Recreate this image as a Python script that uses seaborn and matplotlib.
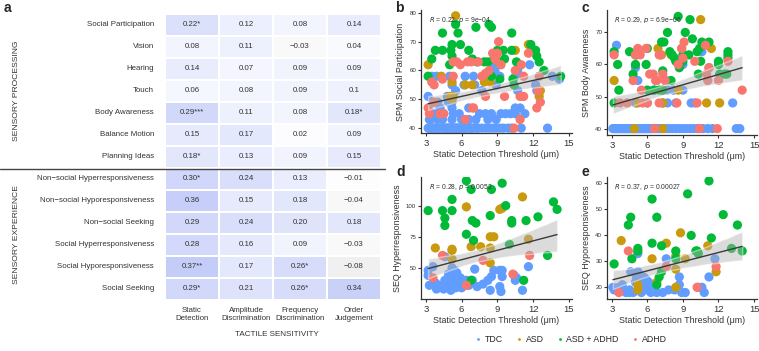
import pandas as pd
import matplotlib
matplotlib.use('Agg')
import matplotlib.pyplot as plt
import seaborn as sns
from matplotlib.colors import LinearSegmentedColormap
from matplotlib.lines import Line2D

sns.set_style('white')
plt.rcParams['font.family'] = ['Liberation Sans', 'DejaVu Sans']

# ---- painel a: tabela de correlacoes ----
linhas = ['Social Participation', 'Vision', 'Hearing', 'Touch', 'Body Awareness',
          'Balance Motion', 'Planning Ideas', 'Non\u2212social Hyperresponsiveness',
          'Non\u2212social Hyporesponsiveness', 'Non\u2212social Seeking',
          'Social Hyperresponsiveness', 'Social Hyporesponsiveness', 'Social Seeking']
colunas = ['Static\nDetection', 'Amplitude\nDiscrimination', 'Frequency\nDiscrimination', 'Order\nJudgement']
valores = [
    [0.22, 0.12, 0.08, 0.14],
    [0.08, 0.11, -0.03, 0.04],
    [0.14, 0.07, 0.09, 0.09],
    [0.06, 0.08, 0.09, 0.10],
    [0.29, 0.11, 0.08, 0.18],
    [0.15, 0.17, 0.02, 0.09],
    [0.18, 0.13, 0.09, 0.15],
    [0.30, 0.24, 0.13, -0.01],
    [0.36, 0.15, 0.18, -0.04],
    [0.29, 0.24, 0.20, 0.18],
    [0.28, 0.16, 0.09, -0.03],
    [0.37, 0.17, 0.26, -0.08],
    [0.29, 0.21, 0.26, 0.34],
]
rotulos = [
    ['0.22*', '0.12', '0.08', '0.14'],
    ['0.08', '0.11', '\u22120.03', '0.04'],
    ['0.14', '0.07', '0.09', '0.09'],
    ['0.06', '0.08', '0.09', '0.1'],
    ['0.29***', '0.11', '0.08', '0.18*'],
    ['0.15', '0.17', '0.02', '0.09'],
    ['0.18*', '0.13', '0.09', '0.15'],
    ['0.30*', '0.24', '0.13', '\u22120.01'],
    ['0.36', '0.15', '0.18', '\u22120.04'],
    ['0.29', '0.24', '0.20', '0.18'],
    ['0.28', '0.16', '0.09', '\u22120.03'],
    ['0.37**', '0.17', '0.26*', '\u22120.08'],
    ['0.29*', '0.21', '0.26*', '0.34'],
]

# ---- paineis b-e: pontos (limiar de deteccao estatica, escore) ----
grupos = ['TDC', 'ASD', 'ASD + ADHD', 'ADHD']
cores = {'TDC': '#619CFF', 'ASD': '#C99A0E', 'ASD + ADHD': '#00BA38', 'ADHD': '#F8766D'}

# muitos TDC ficam no piso (40) e se sobrepoem
b_tdc = [(x, 40) for x in [3.2, 3.3, 3.4, 3.5, 3.6, 3.7, 3.8, 3.9, 4.0, 4.1, 4.3, 4.4, 4.5, 4.6,
                           4.7, 4.8, 4.9, 5.0, 5.1, 5.2, 5.3, 5.4, 5.5, 5.6, 5.7, 5.8, 5.9,
                           6.0, 6.1, 6.2, 6.3, 6.4, 6.5, 6.7, 6.8, 6.9, 7.1, 7.3, 7.4,
                           7.7, 8.0, 8.3, 8.6, 8.9, 9.2, 9.5, 9.9, 10.2, 11.0, 13.2]] + \
        [(3.3, 43), (3.4, 43), (4.0, 43), (4.4, 43), (5.2, 43), (6.0, 43), (6.6, 43), (7.2, 43),
         (8.2, 43), (8.9, 43), (3.6, 45), (3.9, 45), (4.5, 45), (5.3, 45), (5.8, 45), (7.5, 45),
         (8.0, 45), (8.5, 45), (9.3, 45), (9.7, 45), (10.1, 45), (10.5, 45), (11.3, 45), (4.2, 47),
         (5.2, 47), (6.6, 47), (10.5, 47), (10.9, 47), (3.6, 49), (4.0, 49), (4.9, 49), (5.2, 49),
         (3.2, 51), (4.8, 51), (5.5, 53), (7.7, 53), (10.7, 53), (12.3, 53), (5.2, 55), (6.2, 55),
         (7.1, 55), (8.9, 55), (12.2, 55), (3.5, 58), (3.9, 58), (5.0, 58), (6.3, 58), (7.0, 58),
         (9.2, 58), (10.5, 58), (13.6, 58), (8.8, 60), (10.7, 60), (8.7, 62), (11.7, 62), (14.2, 57)]
b_asd = [(5.5, 79), (3.2, 62), (4.3, 58), (5.2, 56), (5.0, 51), (5.3, 51), (5.2, 50), (6.3, 55),
         (6.9, 55), (7.9, 56), (8.4, 56), (8.7, 64), (9.1, 63), (10.5, 67), (11.6, 69), (12.5, 51),
         (12.6, 53)]
b_ambos = [(5.5, 76), (5.7, 73), (7.2, 75), (8.3, 76), (8.5, 75), (4.4, 73), (3.8, 67), (3.5, 64),
           (4.4, 67), (5.2, 69), (5.9, 69), (5.1, 67), (5.2, 65), (6.6, 67), (6.9, 64), (7.3, 63),
           (7.9, 63), (8.2, 63), (8.8, 65), (9.0, 67), (9.5, 67), (9.6, 64), (10.2, 67), (10.2, 73),
           (10.6, 63), (11.8, 69), (12.2, 67), (12.5, 63), (12.3, 65), (14.3, 58), (12.9, 60),
           (3.2, 58), (5.0, 62), (8.5, 58), (10.3, 57), (10.4, 55), (9.2, 57)]
b_adhd = [(3.5, 56), (3.7, 55), (3.2, 47), (3.3, 45), (4.2, 45), (4.5, 45), (5.3, 63), (5.6, 63),
          (5.9, 62), (6.5, 63), (6.8, 63), (7.0, 47), (5.3, 58), (4.4, 57), (7.4, 63), (7.7, 58),
          (8.0, 59), (8.3, 60), (8.6, 66), (8.8, 64), (9.1, 70), (9.0, 66), (9.3, 62), (10.5, 60),
          (11.0, 62), (10.9, 51), (11.2, 51), (11.6, 66), (12.5, 58), (12.4, 53), (12.6, 49),
          (12.3, 47), (10.9, 43), (6.3, 43), (6.9, 47), (8.0, 51), (9.6, 51), (11.2, 58), (3.7, 49),
          (10.4, 40)]

c_tdc = [(x, 40) for x in [3.1, 3.2, 3.3, 3.4, 3.5, 3.6, 3.7, 3.8, 3.9, 4.0, 4.1, 4.2, 4.3, 4.4,
                           4.5, 4.6, 4.7, 4.8, 4.9, 5.0, 5.1, 5.2, 5.3, 5.4, 5.5, 5.6, 5.7,
                           5.8, 5.9, 6.0, 6.1, 6.2, 6.3, 6.4, 6.7, 6.9, 7.0, 7.2, 7.5,
                           7.8, 8.1, 8.4, 8.7, 9.0, 9.3, 9.6, 9.9, 10.2, 10.7, 11.1, 11.5, 13.5, 13.8]] + \
        [(5.0, 48), (6.0, 48), (7.3, 48), (7.7, 48), (8.4, 48), (9.7, 48), (10.0, 48), (13.2, 48),
         (6.5, 52), (7.3, 52), (7.7, 52), (8.2, 52), (9.0, 52), (5.2, 55), (7.6, 55), (5.0, 59),
         (11.2, 59), (3.4, 66), (10.6, 64), (9.0, 60)]
c_asd = [(10.5, 74), (3.2, 55), (5.1, 63), (6.9, 65), (7.2, 63), (8.0, 63), (8.9, 65), (11.4, 65),
         (5.2, 48), (7.3, 48), (8.6, 52), (11.0, 48), (12.1, 48), (4.9, 40), (7.3, 40)]
c_ambos = [(8.6, 75), (9.6, 74), (7.7, 70), (9.2, 70), (9.8, 68), (7.4, 67), (4.5, 64), (3.2, 64),
           (3.5, 60), (5.0, 63), (5.0, 60), (4.8, 57), (3.2, 48), (3.6, 52), (6.0, 65), (5.9, 60),
           (6.0, 52), (6.6, 52), (7.0, 52), (7.3, 58), (7.9, 64), (8.1, 63), (8.3, 62), (8.4, 61),
           (8.7, 59), (8.8, 61), (9.0, 63), (9.0, 61), (9.1, 63), (9.5, 63), (10.2, 64), (10.4, 65),
           (10.6, 67), (11.2, 67), (10.3, 57), (10.5, 61), (12.0, 61), (12.0, 60), (12.1, 57),
           (12.8, 64), (12.8, 63), (12.8, 62), (12.5, 57), (12.7, 57), (8.0, 55), (7.2, 67), (7.3, 52)]
c_adhd = [(3.2, 63), (3.7, 48), (4.3, 48), (4.8, 55), (5.0, 63), (5.2, 65), (5.4, 63), (5.9, 65),
          (6.2, 57), (6.5, 57), (6.7, 55), (6.8, 55), (7.0, 63), (7.1, 63), (7.3, 57), (7.5, 55),
          (7.0, 48), (6.0, 48), (5.6, 48), (6.6, 40), (8.6, 60), (8.9, 65), (9.1, 67), (9.0, 62),
          (10.0, 61), (10.2, 48), (10.9, 66), (11.0, 57), (11.2, 59), (11.1, 55), (12.0, 55),
          (12.8, 61), (14.0, 52), (10.4, 40), (11.9, 40), (8.5, 48), (5.5, 52)]

d_tdc = [(3.2, 48), (3.2, 44), (3.3, 36), (3.6, 51), (3.8, 38), (3.9, 33), (4.1, 36), (4.6, 40),
         (4.5, 33), (4.6, 59), (4.8, 38), (4.9, 45), (5.0, 42), (5.0, 36), (5.1, 32), (5.2, 50),
         (5.2, 38), (5.3, 44), (5.4, 48), (5.4, 40), (5.5, 36), (5.5, 34), (5.6, 46), (5.7, 40),
         (5.8, 38), (5.9, 42), (6.0, 34), (6.1, 40), (6.2, 38), (6.4, 40), (6.6, 36), (6.9, 40),
         (7.3, 35), (7.1, 49), (7.8, 37), (8.2, 40), (8.5, 43), (8.7, 48), (8.4, 32), (9.2, 35),
         (9.3, 31), (9.4, 43), (9.4, 48), (10.6, 42), (10.5, 40), (11.1, 32), (11.6, 51), (10.4, 44),
         (9.2, 48)]
d_asd = [(3.8, 66), (5.2, 65), (5.2, 64), (5.2, 57), (6.4, 99), (6.8, 67), (7.6, 67), (8.4, 75),
         (8.7, 75), (8.4, 66), (8.4, 54), (9.2, 97), (9.4, 98), (11.1, 107), (11.6, 73)]
d_ambos = [(3.2, 96), (4.4, 96), (4.6, 90), (4.6, 84), (5.2, 105), (5.2, 96), (6.4, 120), (6.4, 77),
           (6.8, 113), (6.9, 88), (7.2, 86), (7.0, 72), (8.5, 113), (8.4, 92), (9.4, 118), (9.7, 100),
           (10.2, 88), (10.2, 86), (11.4, 88), (12.4, 91), (13.7, 103), (14.0, 97), (10.0, 69),
           (13.2, 60), (6.8, 40), (11.2, 40)]
d_adhd = [(3.6, 42), (4.4, 60), (6.4, 36), (7.8, 56), (10.3, 45), (11.7, 60)]

e_tdc = [(3.1, 20), (3.2, 19), (3.6, 20), (3.9, 21), (4.2, 18), (4.5, 19), (4.6, 26), (4.8, 18),
         (5.0, 22), (5.1, 24), (5.2, 26), (5.2, 33), (5.3, 20), (5.4, 22), (5.5, 18), (5.6, 21),
         (5.8, 20), (5.9, 23), (6.0, 19), (6.1, 22), (6.2, 21), (6.4, 20), (6.6, 19), (6.8, 18),
         (7.3, 18), (7.6, 31), (7.8, 19), (8.3, 19), (8.7, 24), (8.7, 21), (8.9, 18), (9.2, 18),
         (10.3, 20), (10.6, 20), (10.8, 18), (11.2, 24), (11.7, 31), (4.5, 18), (5.7, 24), (6.3, 18)]
e_asd = [(3.8, 38), (5.2, 21), (5.2, 19), (6.4, 31), (6.8, 22), (7.6, 37), (8.4, 32), (8.4, 27),
         (8.4, 20), (8.8, 41), (9.2, 31), (11.1, 36), (11.8, 26)]
e_ambos = [(3.2, 29), (4.4, 44), (4.6, 47), (4.7, 31), (5.2, 35), (5.2, 34), (6.4, 54), (6.4, 37),
           (6.8, 47), (6.8, 21), (7.0, 24), (7.2, 26), (7.2, 36), (8.4, 34), (8.4, 31), (9.4, 56),
           (9.7, 40), (10.1, 34), (10.2, 34), (10.3, 33), (11.2, 61), (11.4, 39), (12.4, 48),
           (13.1, 35), (13.6, 44), (14.0, 34)]
e_adhd = [(3.6, 18), (4.4, 34), (7.6, 28), (10.2, 20), (11.8, 28)]

paineis = [
    ('b', 'SPM Social Participation', (b_tdc, b_asd, b_ambos, b_adhd), '$R$ = 0.22, $p$ = 9e\u221204',
     (38.3, 81), [40, 50, 60, 70, 80]),
    ('c', 'SPM Body Awareness', (c_tdc, c_asd, c_ambos, c_adhd), '$R$ = 0.29, $p$ = 6.9e\u221206',
     (38, 77), [40, 50, 60, 70]),
    ('d', 'SEQ Hyperresponsiveness', (d_tdc, d_asd, d_ambos, d_adhd), '$R$ = 0.28, $p$ = 0.0052',
     (25, 123), [50, 75, 100]),
    ('e', 'SEQ Hyporesponsiveness', (e_tdc, e_asd, e_ambos, e_adhd), '$R$ = 0.37, $p$ = 0.00027',
     (15.5, 62.5), [20, 30, 40, 50, 60]),
]

# ---- figura ----
W, H = 759, 351
fig = plt.figure(figsize=(W / 100, H / 100), dpi=100)


def caixa(x0, y0, x1, y1):
    # converte pixels (origem no topo) para coordenadas da figura
    return [x0 / W, 1 - y1 / H, (x1 - x0) / W, (y1 - y0) / H]


# heatmap
axh = fig.add_axes(caixa(165, 14, 381, 300))
cmap = LinearSegmentedColormap.from_list('cinza_azul', ['#b4b4b4', '#ffffff', '#c0c9f8'])
df_val = pd.DataFrame(valores, index=linhas, columns=colunas)
sns.heatmap(df_val, ax=axh, cmap=cmap, vmin=-0.4, vmax=0.4, annot=pd.DataFrame(rotulos).values,
            fmt='', cbar=False, linewidths=1.3, linecolor='white',
            annot_kws={'fontsize': 5.7, 'color': '#333333'})
axh.tick_params(axis='both', length=0, labelsize=5.7, colors='#333333')
axh.tick_params(axis='y', pad=8)
axh.tick_params(axis='x', pad=5)
axh.set_yticklabels(linhas, rotation=0, ha='right')
axh.set_xticklabels(colunas, rotation=0, linespacing=1.3)
axh.set_xlabel('')
axh.set_ylabel('')

fig.text(4 / W, 1 - 8 / H, 'a', fontsize=10, fontweight='bold', va='center', ha='left')
fig.text(17 / W, 1 - 91 / H, 'SENSORY PROCESSING', rotation=90, fontsize=6.1, ha='center', va='center', color='#333333')
fig.text(17 / W, 1 - 234 / H, 'SENSORY EXPERIENCE', rotation=90, fontsize=6.1, ha='center', va='center', color='#333333')
fig.text(277 / W, 1 - 334 / H, 'TACTILE SENSITIVITY', fontsize=5.8, ha='center', va='center', color='#333333')
fig.add_artist(Line2D([0, 385 / W], [1 - 168.5 / H, 1 - 168.5 / H], color='#444444', lw=1.0))

# dispersoes
posicoes = {'b': (421, 10, 572, 133), 'c': (607, 10, 757, 135),
            'd': (421, 177, 572, 299), 'e': (607, 177, 757, 299)}
letras = {'b': (395, 8), 'c': (582, 8), 'd': (396, 172), 'e': (582, 172)}
handles = None
for letra, ylab, dados, texto, ylim, yticks in paineis:
    ax = fig.add_axes(caixa(*posicoes[letra]))
    registros = []
    for g, pts in zip(grupos, dados):
        for x, y in pts:
            registros.append({'x': x, 'y': y, 'grupo': g})
    df = pd.DataFrame(registros)
    sns.scatterplot(data=df, x='x', y='y', hue='grupo', hue_order=grupos, palette=cores,
                    s=44, linewidth=0, alpha=1, ax=ax, zorder=2)
    sns.regplot(data=df, x='x', y='y', scatter=False, ax=ax, color='#3a3a3a', seed=1,
                line_kws={'lw': 1.0, 'zorder': 4})
    banda = ax.collections[-1]
    banda.set_facecolor('#b0b0b0')
    banda.set_alpha(0.45)
    banda.set_zorder(3)
    if handles is None:
        handles, labels = ax.get_legend_handles_labels()
    ax.get_legend().remove()
    ax.set_xlim(2.6, 15.25)
    ax.set_ylim(*ylim)
    ax.set_xticks([3, 6, 9, 12, 15])
    ax.set_yticks(yticks)
    sns.despine(ax=ax)
    for lado in ['left', 'bottom']:
        ax.spines[lado].set_color('#333333')
        ax.spines[lado].set_linewidth(0.9)
    ax.tick_params(axis='x', labelsize=6.8, length=2.5, width=0.8, colors='#333333', pad=1.5, bottom=True)
    ax.tick_params(axis='y', labelsize=4.4, length=2.5, width=0.8, colors='#333333', pad=1, left=True)
    ax.set_xlabel('Static Detection Threshold (\u03bcm)', fontsize=6.4, color='#333333', labelpad=2)
    ax.set_ylabel(ylab, fontsize=6.4, color='#333333', labelpad=3)
    ax.text(0.05, 0.92, texto, transform=ax.transAxes, fontsize=4.9, color='#333333', va='center')
    lx, ly = letras[letra]
    fig.text(lx / W, 1 - ly / H, letra, fontsize=10, fontweight='bold', va='center', ha='left')

fig.legend(handles, grupos, loc='center', bbox_to_anchor=(570 / W, 1 - 340 / H), ncol=4,
           frameon=False, fontsize=6.3, markerscale=0.3, handletextpad=0.2, columnspacing=1.3,
           handlelength=1.1)

fig.savefig('out.png', dpi=100)
